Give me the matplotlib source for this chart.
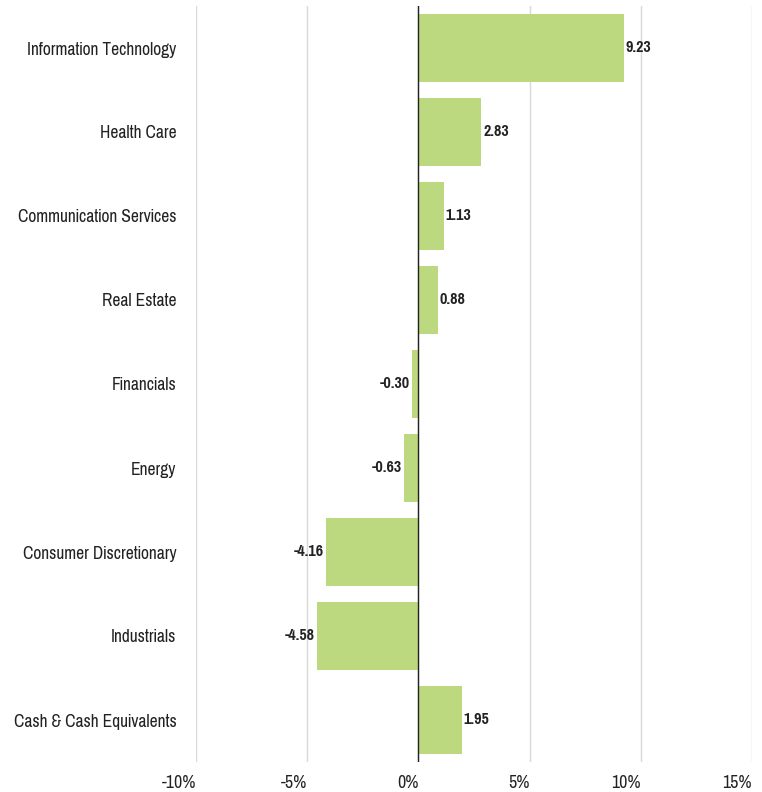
import matplotlib
matplotlib.use("Agg")
import matplotlib.pyplot as plt

plt.rcParams['font.family'] = ['Pragati Narrow', 'Liberation Sans', 'DejaVu Sans']

categories = ["Information Technology", "Health Care", "Communication Services", "Real Estate",
              "Financials", "Energy", "Consumer Discretionary", "Industrials", "Cash & Cash Equivalents"]
values = [9.23, 2.83, 1.13, 0.88, -0.30, -0.63, -4.16, -4.58, 1.95]
xticks = [-10, -5, 0, 5, 10, 15]
xticklabels = ["-10%", "-5%", "0%", "5%", "10%", "15%"]

fig = plt.figure(figsize=(7.62, 7.92), dpi=100)
ax = fig.add_axes([196/762, 1-762/792, (752-196)/762, (762-6)/792])

y = list(range(len(categories)))
ax.barh(y, values, height=0.81, color="#BDD97F", zorder=2)
ax.set_ylim(len(categories)-0.5, -0.5)
ax.set_xlim(-10, 15)
ax.set_xticks(xticks)
ax.set_xticklabels(xticklabels, fontsize=14, color="#222222", ha='right')
ax.set_yticks(y)
ax.set_yticklabels(categories, fontsize=13.7, color="#222222")
ax.tick_params(axis='both', length=0)
ax.tick_params(axis='y', pad=14)
ax.tick_params(axis='x', pad=9)
ax.grid(axis='x', color="#D9D9D9", linewidth=1, zorder=0)
for s in ax.spines.values():
    s.set_visible(False)
ax.axvline(0, color="#222222", linewidth=1, zorder=3)

for yi, v in zip(y, values):
    if v >= 0:
        ax.text(v + 0.08, yi, f"{v:.2f}", ha='left', va='center', fontsize=12.5, fontweight='bold', color="#222222")
    else:
        ax.text(v - 0.1, yi, f"{v:.2f}", ha='right', va='center', fontsize=12.5, fontweight='bold', color="#222222")

fig.savefig("out.png", dpi=100)
